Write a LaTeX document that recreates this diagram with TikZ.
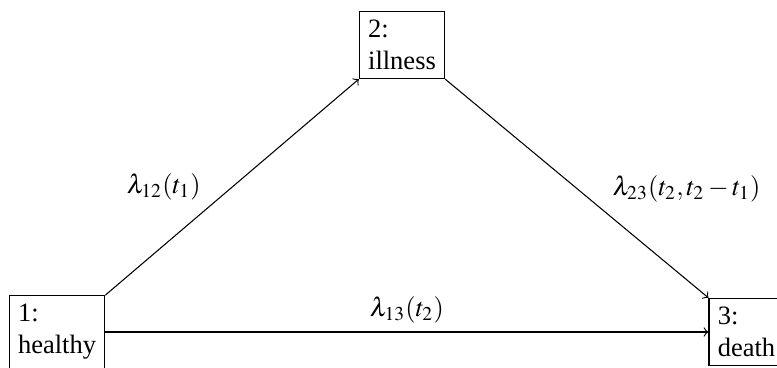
\documentclass[tikz,border=0pt]{standalone}
\usepackage{mathptmx}
\usepackage{fontspec}
\setmainfont{Liberation Serif}
\begin{document}
\begin{tikzpicture}[x=0.3774pt,y=-0.3774pt,>=to,
  statebox/.style={draw, align=left, font=\fontsize{10}{12}\selectfont},
  rate/.style={font=\fontsize{10}{12}\selectfont}]
\useasboundingbox (0,0) rectangle (777,368);
\node[statebox] (h) at (57,332) {1:\\healthy};
\node[statebox] (i) at (402,45) {2:\\illness};
\node[statebox] (d) at (746.5,332) {3:\\death};
\draw[->] (h.north east) -- node[rate, left=8.3pt] {$\lambda_{12}(t_1)$} (i.south west);
\draw[->] (i.south east) -- node[rate, right=10pt] {$\lambda_{23}(t_2,t_2-t_1)$} (d.north west);
\draw[->] (h.east) -- node[rate, above] {$\lambda_{13}(t_2)$} (d.west);
\end{tikzpicture}
\end{document}
